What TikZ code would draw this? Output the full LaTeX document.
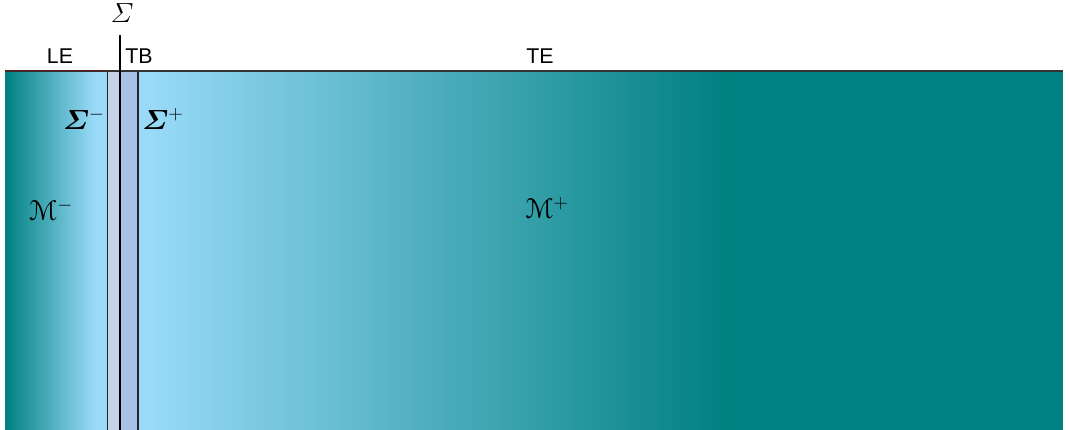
\documentclass[tikz,border=0pt]{standalone}
\usepackage{amsmath,bm}
\usepackage{eucal}
\usepackage{fontspec}
\setsansfont{Liberation Sans}

\definecolor{skyblue}{RGB}{152,218,248}
\definecolor{deepteal}{RGB}{0,128,128}
\definecolor{stripA}{RGB}{196,210,234}
\definecolor{stripB}{RGB}{168,194,230}

\tikzset{
  zonelabel/.style={inner sep=0.75pt, font=\sffamily\fontsize{16}{18}\selectfont},
  mathlabel/.style={inner sep=0.75pt, font=\fontsize{21.5}{25}\selectfont},
  wall/.style={draw=black!85, line width=0.6},
}

\begin{document}
\begin{tikzpicture}[x=0.75pt,y=0.75pt,yscale=-1,xscale=1]
\useasboundingbox (0,0) rectangle (1070,429);

%Region M-
\fill [skyblue] (5,71) rectangle (107,432);
\shade [left color=deepteal, right color=skyblue] (5,71) rectangle (94,432);
%Region M+
\fill [deepteal] (139,71) rectangle (1063,432);
\fill [skyblue] (138,71) rectangle (153,432);
\shade [left color=skyblue, right color=deepteal] (152,71) rectangle (726,432);
%Thin layer
\fill [stripA] (107,71) rectangle (120,432);
\fill [stripB] (120,71) rectangle (137,432);
\draw [wall] (107,71) -- (107,432);
\draw [black!85, line width=2] (138,71) -- (138,432);
%Top boundary
\draw [black!80, line width=1.2] (5,71) -- (1063,71);
\draw [red!55!black, opacity=0.5, line width=0.5] (5,70) -- (107,70);

% Text Node
\node [mathlabel, font=\fontsize{21}{24}\selectfont] (sigma) at (122,13) {$\varSigma$};
\coordinate (sigtop) at (120,35);
\draw [black, line width=0.8] (sigtop) -- (sigtop |- 0,432);
% Text Node
\node [zonelabel] (le) at (60,56) {LE};
\node [zonelabel] (tb) at (139,56) {TB};
\node [zonelabel] (te) at (540,56) {TE};
% Text Node
\node [mathlabel] (sigminus) at (84,119) {$\bm{\varSigma}^{-}$};
\node [mathlabel] (sigplus) at (163,119) {$\bm{\varSigma}^{+}$};
\node [mathlabel] (mminus) at (51,210) {$\mathcal{M}^{-}$};
\node [mathlabel] (mplus) at (547,208) {$\mathcal{M}^{+}$};

\end{tikzpicture}
\end{document}
